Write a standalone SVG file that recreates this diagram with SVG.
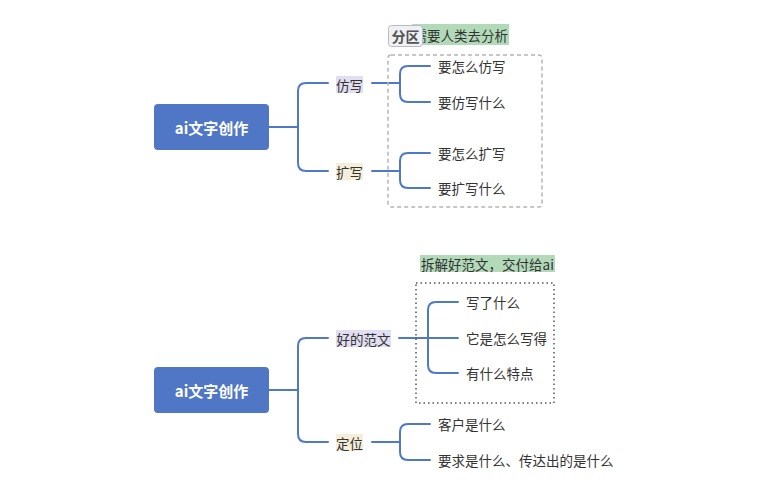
<svg xmlns="http://www.w3.org/2000/svg" width="778" height="491" viewBox="0 0 778 491">
<style>
.root rect{fill:#5077C6}
.root text{fill:#fff;font-family:"Noto Sans CJK SC","Noto Sans",sans-serif;font-size:15px;font-weight:bold;text-anchor:middle;dominant-baseline:central}
.t{fill:#333;font-family:"Noto Sans CJK SC","Noto Sans",sans-serif;font-size:13.5px;dominant-baseline:central}
.c{fill:none;stroke:#4F78C8;stroke-width:2;stroke-linecap:round}
.pur{fill:#E1DEF2}
.bei{fill:#F4EEDA}
.grn{fill:#B2DAB9}
</style>
<rect width="778" height="491" fill="#fff"/>
<g id="connectors">
<path class="c" d="M269,127 H298 M328,83 H306 Q298,83 298,91 V163 Q298,171 306,171 H328"/>
<path class="c" d="M372,83 H400 M430,66 H408 Q400,66 400,74 V94 Q400,102 408,102 H430"/>
<path class="c" d="M372,171 H400 M430,153 H408 Q400,153 400,161 V180 Q400,188 408,188 H430"/>
<path class="c" d="M269,390 H298 M328,338 H306 Q298,338 298,346 V434 Q298,442 306,442 H328"/>
<path class="c" d="M399,338 H458 M458,302 H436 Q428,302 428,310 V365 Q428,373 436,373 H458"/>
<path class="c" d="M372,442 H400 M430,424 H408 Q400,424 400,432 V452 Q400,460 408,460 H430"/>
</g>
<g id="boundary1">
<rect x="388" y="55" width="154" height="152" rx="3" fill="none" stroke="#B5B5B5" stroke-width="1.5" stroke-dasharray="4,3"/>
</g>
<g id="summary1">
<rect class="grn" x="412" y="24" width="97" height="21"/>
<text class="t" x="508" y="35" text-anchor="end">需要人类去分析</text>
</g>
<g id="badge">
<rect x="388.5" y="25.5" width="34" height="21" rx="3" fill="#EEF0F3" stroke="#B8BCC4"/>
<text x="405.5" y="36" fill="#555" font-family="'Noto Sans CJK SC','Noto Sans',sans-serif" font-size="14" font-weight="bold" text-anchor="middle" dominant-baseline="central">分区</text>
</g>
<g id="root1" class="root">
<rect x="154" y="104" width="115" height="46" rx="4"/>
<text x="211.5" y="127">ai文字创作</text>
</g>
<g id="n-fangxie"><rect class="pur" x="336" y="76" width="27" height="17"/><text class="t" x="349.5" y="85" text-anchor="middle">仿写</text></g>
<g id="n-kuoxie"><rect class="bei" x="336" y="163" width="27" height="17"/><text class="t" x="349.5" y="172" text-anchor="middle">扩写</text></g>
<g id="n1"><text class="t" x="438" y="66">要怎么仿写</text></g>
<g id="n2"><text class="t" x="438" y="102">要仿写什么</text></g>
<g id="n3"><text class="t" x="438" y="153">要怎么扩写</text></g>
<g id="n4"><text class="t" x="438" y="188">要扩写什么</text></g>
<g id="boundary2">
<rect x="416" y="283" width="138" height="120" fill="none" stroke="#555" stroke-width="1.5" stroke-dasharray="1.5,3"/>
</g>
<g id="summary2">
<rect class="grn" x="420" y="255" width="135" height="17"/>
<text class="t" x="487.5" y="263.5" text-anchor="middle">拆解好范文，交付给ai</text>
</g>
<g id="root2" class="root">
<rect x="154" y="367" width="115" height="46" rx="4"/>
<text x="211.5" y="390">ai文字创作</text>
</g>
<g id="n-fanwen"><rect class="pur" x="336" y="330" width="55" height="17"/><text class="t" x="363.5" y="339" text-anchor="middle">好的范文</text></g>
<g id="n-dingwei"><rect class="bei" x="336" y="434" width="27" height="17"/><text class="t" x="349.5" y="443" text-anchor="middle">定位</text></g>
<g id="n5"><text class="t" x="466" y="302">写了什么</text></g>
<g id="n6"><text class="t" x="466" y="338">它是怎么写得</text></g>
<g id="n7"><text class="t" x="466" y="373">有什么特点</text></g>
<g id="n8"><text class="t" x="438" y="424">客户是什么</text></g>
<g id="n9"><text class="t" x="438" y="460">要求是什么、传达出的是什么</text></g>
</svg>
